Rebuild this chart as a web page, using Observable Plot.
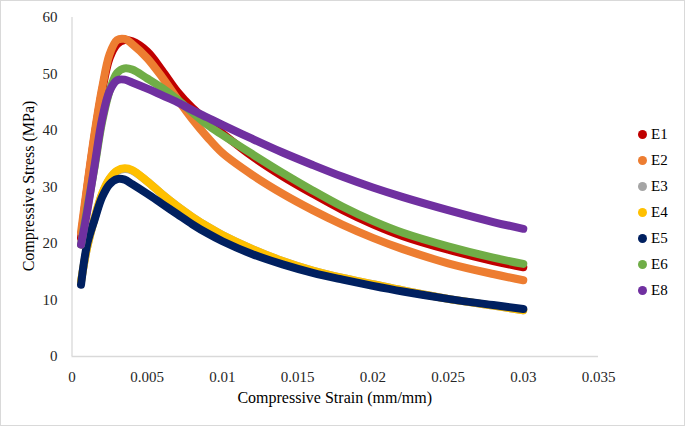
<!DOCTYPE html>
<html>
<head>
<meta charset="utf-8">
<script src="https://cdn.jsdelivr.net/npm/d3@7"></script>
<script src="https://cdn.jsdelivr.net/npm/@observablehq/plot@0.6"></script>
<style>
  html, body { margin: 0; padding: 0; background: #fff; }
  #wrap { position: relative; width: 685px; height: 426px; overflow: hidden; font-family: "Liberation Serif", "Times New Roman", serif; }
  #frame { position: absolute; left: 0; top: 0; width: 683px; height: 424px; border: 1px solid #d9d9d9; pointer-events: none; }
  #chart { position: absolute; left: 0; top: 0; }
  .xlabel { position: absolute; left: 71.5px; width: 526.5px; top: 389px; text-align: center; font-size: 16px; color: #000; white-space: nowrap; }
  .ylabel { position: absolute; left: 29px; top: 186px; transform: translate(-50%, -50%) rotate(-90deg); font-size: 16px; color: #000; white-space: nowrap; }
  .legend { position: absolute; left: 638px; top: 124px; }
  .item { position: absolute; left: 0; height: 20px; display: flex; align-items: center; font-size: 15px; color: #000; white-space: nowrap; }
  .sw { width: 9px; height: 9px; border-radius: 50%; margin-right: 4px; }
</style>
</head>
<body>
<div id="wrap">
  <div id="chart"></div>
  <div class="xlabel">Compressive Strain (mm/mm)</div>
  <div class="ylabel">Compressive Stress (MPa)</div>
  <div class="legend" id="legend"></div>
  <div id="frame"></div>
</div>
<script>
// ---- data ----
const seriesNames = ["E1", "E2", "E3", "E4", "E5", "E6", "E8"];
const seriesColors = ["#C00000", "#ED7D31", "#A5A5A5", "#FFC000", "#002060", "#70AD47", "#7030A0"];

const strain = [0.0006, 0.001, 0.0015, 0.002, 0.0025, 0.003, 0.0035, 0.004, 0.005, 0.006, 0.007, 0.008, 0.009, 0.010, 0.012, 0.014, 0.016, 0.018, 0.020, 0.022, 0.025, 0.028, 0.030];

const e1 = [21.0, 29.5, 39.0, 47.0, 52.8, 55.3, 56.0, 55.8, 54.0, 50.6, 46.9, 44.0, 41.7, 39.5, 35.4, 31.9, 28.8, 25.9, 23.4, 21.3, 18.9, 16.9, 15.8];
const e2 = [22.0, 30.0, 39.5, 47.5, 53.5, 56.0, 56.2, 55.3, 52.8, 49.4, 45.6, 42.0, 38.8, 36.0, 32.1, 28.8, 25.9, 23.3, 21.0, 19.0, 16.5, 14.6, 13.5];
const e3 = [13.2, 19.2, 24.4, 28.7, 31.4, 32.8, 33.2, 32.9, 31.0, 28.7, 26.6, 24.7, 23.0, 21.5, 19.0, 16.9, 15.2, 13.9, 12.8, 11.7, 10.2, 9.0, 8.2];
const e4 = [13.3, 19.2, 24.5, 28.8, 31.5, 32.9, 33.3, 33.0, 31.0, 28.7, 26.6, 24.7, 23.0, 21.5, 19.0, 16.9, 15.2, 13.9, 12.8, 11.7, 10.2, 9.0, 8.2];
const e5 = [12.7, 19.8, 24.2, 28.2, 30.5, 31.4, 31.3, 30.5, 28.8, 27.0, 25.2, 23.4, 21.8, 20.4, 18.1, 16.3, 14.8, 13.6, 12.5, 11.5, 10.2, 9.1, 8.4];
const e6 = [19.8, 26.0, 33.5, 41.5, 47.0, 50.2, 51.0, 50.8, 49.2, 47.5, 45.5, 43.2, 41.0, 39.2, 35.8, 32.5, 29.4, 26.5, 24.0, 21.9, 19.5, 17.5, 16.4];
const e8 = [19.8, 25.5, 33.8, 42.0, 47.0, 48.9, 49.0, 48.5, 47.4, 46.2, 45.0, 43.6, 42.3, 41.0, 38.5, 36.1, 33.9, 31.8, 29.9, 28.2, 25.9, 23.8, 22.6];

const stressBySeries = [e1, e2, e3, e4, e5, e6, e8];

const xTicks = [0, 0.005, 0.01, 0.015, 0.02, 0.025, 0.03, 0.035];
const xTickLabels = ["0", "0.005", "0.01", "0.015", "0.02", "0.025", "0.03", "0.035"];
const yTicks = [0, 10, 20, 30, 40, 50, 60];

// ---- build table ----
const rows = [];
seriesNames.forEach((name, i) => {
  stressBySeries[i].forEach((v, j) => rows.push({series: name, strain: strain[j], stress: v}));
});

const plot = Plot.plot({
  width: 685,
  height: 426,
  marginLeft: 71.5,
  marginRight: 87,
  marginTop: 17,
  marginBottom: 70,
  style: {fontFamily: "'Liberation Serif', 'Times New Roman', serif", fontSize: "15px", color: "#262626", background: "transparent", overflow: "visible"},
  x: {domain: [0, 0.035]},
  y: {domain: [0, 60]},
  color: {domain: seriesNames, range: seriesColors},
  marks: [
    Plot.ruleX([0], {y1: 0, y2: 60, stroke: "#d9d9d9", strokeWidth: 1.3}),
    Plot.ruleY([0], {x1: 0, x2: 0.035, stroke: "#d9d9d9", strokeWidth: 1.3}),
    Plot.axisX({ticks: xTicks, tickSize: 0, tickPadding: 15, tickFormat: (d, i) => xTickLabels[i], label: null, fontSize: 15}),
    Plot.axisY({ticks: yTicks, tickSize: 0, tickPadding: 14.5, label: null, fontSize: 15}),
    Plot.line(rows, {x: "strain", y: "stress", z: "series", stroke: "series", strokeWidth: 8, strokeLinecap: "round", strokeLinejoin: "round", curve: "catmull-rom"})
  ]
});
document.getElementById("chart").appendChild(plot);

// ---- legend ----
const legend = document.getElementById("legend");
seriesNames.forEach((name, i) => {
  const it = document.createElement("div");
  it.className = "item";
  it.style.top = (i * 26) + "px";
  const sw = document.createElement("span");
  sw.className = "sw";
  sw.style.background = seriesColors[i];
  const t = document.createElement("span");
  t.textContent = name;
  it.appendChild(sw);
  it.appendChild(t);
  legend.appendChild(it);
});
</script>
</body>
</html>
